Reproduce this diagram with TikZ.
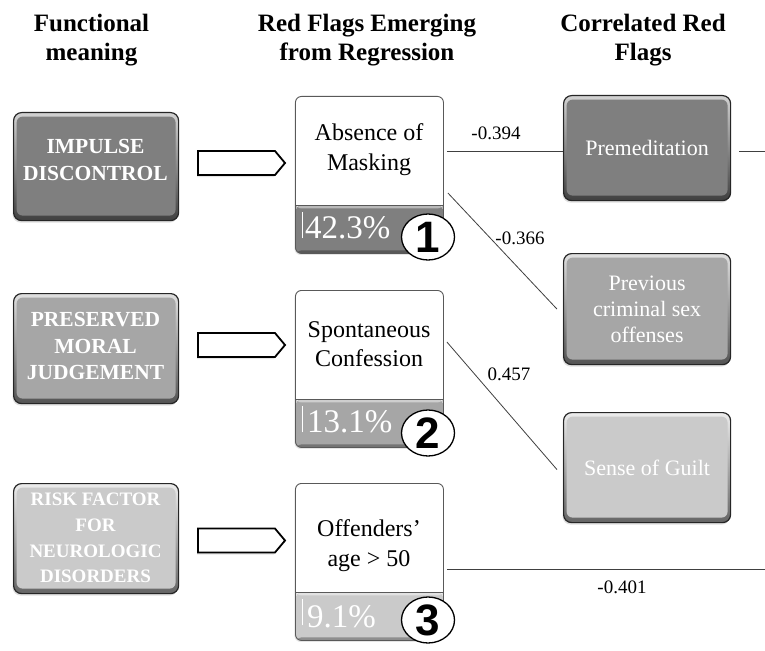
\documentclass[tikz,border=0pt]{standalone}
\usepackage{fontspec}
\setmainfont{Liberation Serif}
\newfontfamily\numfont{Liberation Sans}
\usetikzlibrary{calc,shadows,shapes.geometric,shapes.symbols}
\definecolor{gA}{HTML}{7F7F7F}
\definecolor{gB}{HTML}{A6A6A6}
\definecolor{gC}{HTML}{CACACA}
\newcommand\fsz[2]{\fontsize{#1}{#2}\selectfont}
\begin{document}
\begin{tikzpicture}[x=1pt,y=-1pt,
  head/.style={font=\bfseries\fsz{25}{29}, align=center, inner sep=0pt},
  bevel/.style={draw=black!85, line width=1.2pt, rounded corners=8pt, inner sep=0pt,
    anchor=north west, top color=#1!35!white, bottom color=#1!50!black,
    drop shadow={shadow xshift=-1pt, shadow yshift=-2pt, opacity=0.25},
    path picture={\fill[#1, rounded corners=6pt]
      ([shift={(3pt,-4pt)}]path picture bounding box.north west) rectangle
      ([shift={(-3pt,5pt)}]path picture bounding box.south east);}},
  functext/.style={text=white, align=center, inner sep=0pt, font=\bfseries\fsz{21.5}{27}},
  rtext/.style={text=white, align=center, font=\fsz{22}{26}},
  arrowbox/.style={signal, signal to=east, signal pointer angle=100, draw=black,
    line width=1.8pt, fill=white, minimum width=87pt, minimum height=24pt, inner sep=0pt,
    drop shadow={shadow xshift=-1pt, shadow yshift=-2pt, opacity=0.2}},
  regbox/.style={draw=black!65, line width=0.9pt, fill=white, rounded corners=6pt,
    minimum width=148pt, minimum height=157pt, anchor=north west, inner sep=0pt,
    drop shadow={shadow xshift=-1pt, shadow yshift=-1.5pt, opacity=0.2},
    path picture={
      \fill[#1] (path picture bounding box.south west) rectangle ([yshift=48pt]path picture bounding box.south east);
      \fill[#1!55!white] ([yshift=45pt]path picture bounding box.south west) rectangle ([yshift=48pt]path picture bounding box.south east);
      \fill[#1!70!black] (path picture bounding box.south west) rectangle ([yshift=3pt]path picture bounding box.south east);
      \draw[black!65, line width=0.9pt] ([yshift=48pt]path picture bounding box.south west) -- ([yshift=48pt]path picture bounding box.south east);
      \draw[white, line width=1.8pt] ([xshift=7pt,yshift=15pt]path picture bounding box.south west) -- ([xshift=7pt,yshift=41pt]path picture bounding box.south west);}},
  regtext/.style={align=center, inner sep=0pt, font=\fsz{24}{29.5}},
  pct/.style={text=white, inner sep=0pt, anchor=base west, font=\fsz{33}{33}},
  numc/.style={ellipse, draw=black, line width=1.3pt, fill=white, minimum width=53pt,
    minimum height=46pt, inner sep=0pt, font=\numfont\bfseries\fsz{44}{44}},
  lab/.style={inner sep=0pt, font=\fsz{19}{19}},
  conn/.style={draw=black!75, line width=0.8pt}
]
\fill[white] (0,0) rectangle (765,650);
\useasboundingbox (0,0) rectangle (765,650);
\coordinate (rightedge) at (765,0);

% headers
\node[head] (h1) at (91.5,40) {Functional\\meaning};
\node[head] (h2) at (367,40) {Red Flags Emerging\\from Regression};
\node[head] (h3) at (643,40) {Correlated Red\\Flags};

% functional meaning boxes
\node[bevel=gA, minimum width=165pt, minimum height=108pt] (f1) at (13,112) {};
\node[functext] (f1t) at (95.5,160.4) {IMPULSE\\DISCONTROL};
\node[bevel=gB, minimum width=165pt, minimum height=110pt] (f2) at (13,293) {};
\node[functext, font=\bfseries\fsz{21.5}{26.5}] (f2t) at (95.5,346.4) {PRESERVED\\MORAL\\JUDGEMENT};
\node[bevel=gC, minimum width=165pt, minimum height=110pt] (f3) at (13,483) {};
\node[functext, font=\bfseries\fsz{19}{25.6}] (f3t) at (95.5,538) {RISK FACTOR\\FOR\\NEUROLOGIC\\DISORDERS};

% arrows
\node[arrowbox] (a1) at (236.5,163) {};
\node[arrowbox] (a2) at (236.5,345) {};
\node[arrowbox] (a3) at (236.5,540.5) {};

% regression boxes
\node[regbox=gA] (m1) at (295,96) {};
\node[regtext] (m1t) at (369,149.4) {Absence of\\Masking};
\node[pct] (p1) at (305,238) {42.3\%};
\node[numc] (n1) at (428,237) {1};

\node[regbox=gB] (m2) at (295,290) {};
\node[regtext] (m2t) at (369,344.4) {Spontaneous\\Confession};
\node[pct] (p2) at (307,432) {13.1\%};
\node[numc] (n2) at (428,433) {2};

\node[regbox=gC] (m3) at (295,483) {};
\node[regtext] (m3t) at (369,545.5) {Offenders’\\age > 50};
\node[pct] (p3) at (307,627) {9.1\%};
\node[numc] (n3) at (428,620) {3};

% correlated boxes
\node[bevel=gA, minimum width=167pt, minimum height=105pt, rtext] (r1) at (563,95) {Premeditation};
\node[bevel=gB, minimum width=167pt, minimum height=111pt, rtext] (r2) at (563,253) {Previous\\criminal sex\\offenses};
\node[bevel=gC, minimum width=167pt, minimum height=110pt, rtext] (r3) at (563,412) {Sense of Guilt};

% connectors
\coordinate (s1) at ([xshift=3pt,yshift=-55pt]m1.north east);
\draw[conn] (s1) -- (s1 -| r1.west);
\draw[conn] ([xshift=8pt]s1 -| r1.east) -- (s1 -| rightedge);
\draw[conn] ([xshift=4pt,yshift=-97pt]m1.north east) -- ([xshift=-6pt]r2.west);
\draw[conn] ([xshift=3pt,yshift=-52pt]m2.north east) -- ([xshift=-6pt,yshift=-2pt]r3.west);
\coordinate (s4) at ([xshift=3pt,yshift=-86pt]m3.north east);
\draw[conn] (s4) -- (s4 -| rightedge);

% labels
\node[lab] (l1) at (496,133) {-0.394};
\node[lab] (l2) at (520,238) {-0.366};
\node[lab] (l3) at (509,374) {0.457};
\node[lab] (l4) at (622,587) {-0.401};
\end{tikzpicture}
\end{document}
